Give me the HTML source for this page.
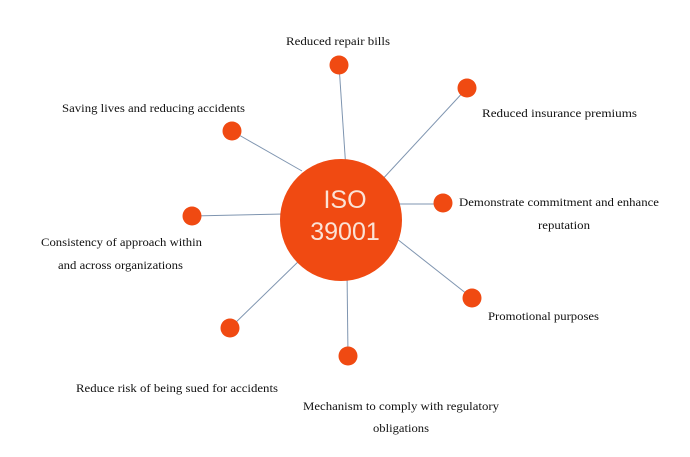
<!DOCTYPE html>
<html><head><meta charset="utf-8"><style>
html,body{margin:0;padding:0;background:#fff;}
svg{display:block;}
text{font-family:"Liberation Serif",serif;font-size:11.5px;fill:#111;}
</style></head><body>
<svg width="690" height="457" viewBox="0 0 690 457">
<g stroke="#7f95b0" stroke-width="1">
<line x1="346" y1="170" x2="339" y2="65"/>
<line x1="380" y1="182" x2="467" y2="88"/>
<line x1="302" y1="171" x2="232" y2="131"/>
<line x1="395" y1="204" x2="443" y2="204"/>
<line x1="284" y1="214" x2="192" y2="216"/>
<line x1="392" y1="235" x2="472" y2="298"/>
<line x1="303" y1="257" x2="230" y2="328"/>
<line x1="347" y1="270" x2="348" y2="356"/>
</g>
<g fill="#f04a12">
<circle cx="341" cy="220" r="61"/>
<circle cx="339" cy="65" r="9.5"/>
<circle cx="467" cy="88" r="9.5"/>
<circle cx="232" cy="131" r="9.5"/>
<circle cx="443" cy="203" r="9.5"/>
<circle cx="192" cy="216" r="9.5"/>
<circle cx="472" cy="298" r="9.5"/>
<circle cx="230" cy="328" r="9.5"/>
<circle cx="348" cy="356" r="9.5"/>
</g>
<text x="345" y="208" text-anchor="middle" style="font-family:'Liberation Sans',sans-serif;font-size:25px;fill:#fbe3d6">ISO</text>
<text x="345" y="240" text-anchor="middle" style="font-family:'Liberation Sans',sans-serif;font-size:25px;fill:#fbe3d6">39001</text>
<text x="286" y="45" textLength="104" lengthAdjust="spacingAndGlyphs">Reduced repair bills</text>
<text x="62" y="112" textLength="183" lengthAdjust="spacingAndGlyphs">Saving lives  and reducing accidents</text>
<text x="482" y="117" textLength="155" lengthAdjust="spacingAndGlyphs">Reduced  insurance premiums</text>
<text x="459" y="206" textLength="200" lengthAdjust="spacingAndGlyphs">Demonstrate commitment and enhance</text>
<text x="538" y="229" textLength="52" lengthAdjust="spacingAndGlyphs">reputation</text>
<text x="41" y="246" textLength="161" lengthAdjust="spacingAndGlyphs">Consistency of approach within</text>
<text x="58" y="269" textLength="125" lengthAdjust="spacingAndGlyphs">and across organizations</text>
<text x="488" y="320" textLength="111" lengthAdjust="spacingAndGlyphs">Promotional purposes</text>
<text x="76" y="392" textLength="202" lengthAdjust="spacingAndGlyphs">Reduce risk of being sued for accidents</text>
<text x="303" y="410" textLength="196" lengthAdjust="spacingAndGlyphs">Mechanism to comply with regulatory</text>
<text x="373" y="432" textLength="56" lengthAdjust="spacingAndGlyphs">obligations</text>
</svg>
</body></html>
